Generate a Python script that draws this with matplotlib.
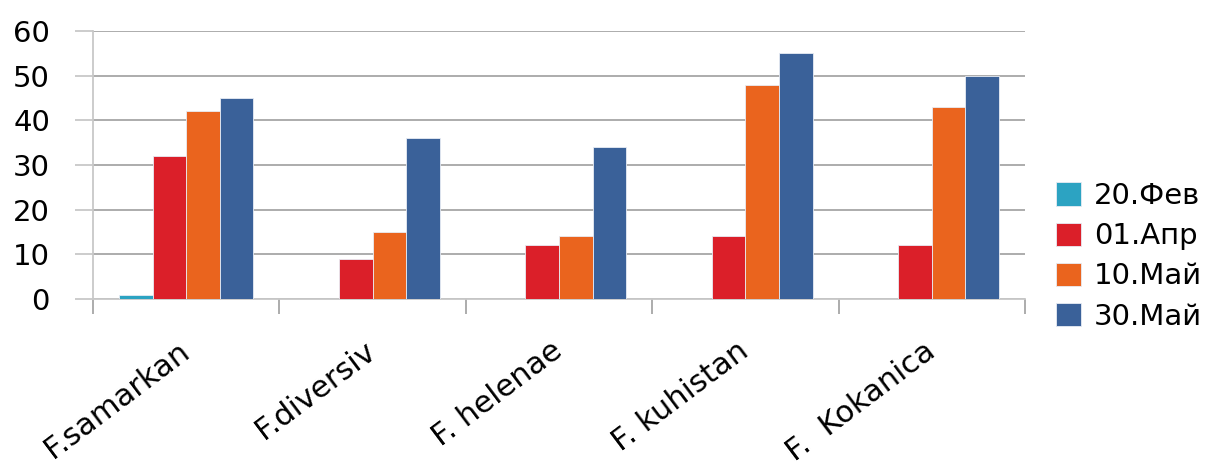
import matplotlib
matplotlib.use("Agg")
import matplotlib.pyplot as plt
import numpy as np
from matplotlib.transforms import ScaledTranslation

categories = ["F.samarkan", "F.diversiv", "F. helenae", "F. kuhistan", "F.  Kokanica"]
series_names = ["20.Фев", "01.Апр", "10.Май", "30.Май"]
feb20 = [1, 0, 0, 0, 0]
apr01 = [32, 9, 12, 14, 12]
may10 = [42, 15, 14, 48, 43]
may30 = [45, 36, 34, 55, 50]
series_values = [feb20, apr01, may10, may30]
colors = ["#2CA3C2", "#DB1F29", "#EA641E", "#3A6199"]
y_ticks = [0, 10, 20, 30, 40, 50, 60]

plt.rcParams["font.family"] = ["DejaVu Sans"]

fig = plt.figure(figsize=(12.25, 4.69), dpi=100)
ax = fig.add_axes([93/1225, 1-299/469, (1025-93)/1225, (299-31)/469])

x = np.arange(len(categories))
w = 0.18
for i, (name, vals, c) in enumerate(zip(series_names, series_values, colors)):
    ax.bar(x + (i - 1.5) * w, vals, width=w, color=c, label=name,
           edgecolor="#E8ECF4", linewidth=0.6, zorder=3)

ax.set_xlim(-0.5, len(categories) - 0.5)
ax.set_ylim(0, 60)
ax.set_yticks(y_ticks)
ax.yaxis.grid(True, color="#A6A6A6", linewidth=1.3, zorder=0)
ax.tick_params(axis="y", length=13, color="#C8C8C8", width=1.3, pad=18,
               labelsize=21)

for s in ["top", "right"]:
    ax.spines[s].set_visible(False)
ax.spines["left"].set_color("#C8C8C8")
ax.spines["left"].set_linewidth(1.3)
ax.spines["bottom"].set_color("#C8C8C8")
ax.spines["bottom"].set_linewidth(1.3)

# major ticks at boundaries, minor ticks (labels) at centers
ax.set_xticks(np.arange(len(categories) + 1) - 0.5)
ax.set_xticklabels([])
ax.tick_params(axis="x", which="major", length=11, color="#A6A6A6", width=1.3)
ax.set_xticks(x, minor=True)
ax.set_xticklabels(categories, minor=True, rotation=37, ha="right",
                   va="baseline", rotation_mode="anchor", fontsize=22)
ax.tick_params(axis="x", which="minor", length=0, pad=40)
for lab in ax.get_xticklabels(minor=True):
    lab.set_transform(lab.get_transform() + ScaledTranslation(5/100, 0, fig.dpi_scale_trans))

fig.legend(loc="upper left", bbox_to_anchor=(1056/1225, 1-182/469),
           frameon=False, fontsize=21, handlelength=0.85, handleheight=0.85,
           handletextpad=0.45, labelspacing=0.42, borderpad=0, borderaxespad=0)

fig.savefig("out.png", dpi=100)
